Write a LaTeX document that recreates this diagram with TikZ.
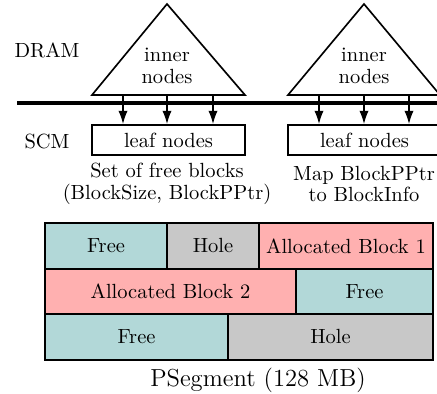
\documentclass[tikz,border=0pt]{standalone}
\usetikzlibrary{arrows.meta}
\definecolor{freecol}{RGB}{178,216,216}
\definecolor{holecol}{RGB}{200,200,200}
\definecolor{alloccol}{RGB}{255,176,176}
\tikzset{
    arr/.style={-{Latex[length=6.5pt,width=4.5pt]},thick},
    leafbox/.style={draw,thick,minimum width=74.6pt,minimum height=14.6pt,inner sep=0pt},
    cell/.style={draw,thick}
}
\begin{document}
\begin{tikzpicture}[x=0.4878pt, y=-0.4878pt]
        \clip (0,0) rectangle (437,394);

        \node[anchor=center] (dram) at (47,50) {DRAM};
        \node[anchor=center] (scm) at (47,142) {SCM};

        % boundary between DRAM and SCM
        \draw[line width=1.5pt] (17,103) -- (445,103);

        % left tree
        \draw[thick,fill=white] (167,4) -- (92,95) -- (245,95) -- cycle;
        \node[align=center] (innerA) at (167,66) {inner\\[-1.5pt]nodes};
        \node[leafbox] (leafA) at (168.5,140) {leaf nodes};
        \coordinate (a1) at (123,95);
        \coordinate (a2) at (167,95);
        \coordinate (a3) at (213,95);
        \draw[arr] (a1) -- (a1 |- leafA.north);
        \draw[arr] (a2) -- (a2 |- leafA.north);
        \draw[arr] (a3) -- (a3 |- leafA.north);
        \node[align=center] (setA) at (167,184) {Set of free blocks\\[-1.5pt](BlockSize, BlockPPtr)};

        % right tree
        \draw[thick,fill=white] (364,4) -- (288,95) -- (440,95) -- cycle;
        \node[align=center] (innerB) at (364,66) {inner\\[-1.5pt]nodes};
        \node[leafbox] (leafB) at (364.5,140) {leaf nodes};
        \coordinate (b1) at (319,95);
        \coordinate (b2) at (364,95);
        \coordinate (b3) at (409,95);
        \draw[arr] (b1) -- (b1 |- leafB.north);
        \draw[arr] (b2) -- (b2 |- leafB.north);
        \draw[arr] (b3) -- (b3 |- leafB.north);
        \node[align=center] (mapB) at (364,184) {Map BlockPPtr\\[-1.5pt]to BlockInfo};

        % PSegment
        \draw[cell,fill=freecol] (45,223) rectangle (167,269);
        \node (free1) at (106,246) {Free};
        \draw[cell,fill=holecol] (167,223) rectangle (259,269);
        \node (hole1) at (213,246) {Hole};
        \draw[cell,fill=alloccol] (259,223) rectangle (433,269);
        \node (alloc1) at (346,246) {Allocated Block 1};

        \draw[cell,fill=alloccol] (45,269) rectangle (296,314);
        \node (alloc2) at (170.5,291.5) {Allocated Block 2};
        \draw[cell,fill=freecol] (296,269) rectangle (433,314);
        \node (free2) at (364.5,291.5) {Free};

        \draw[cell,fill=freecol] (45,314) rectangle (228,360);
        \node (free3) at (136.5,337) {Free};
        \draw[cell,fill=holecol] (228,314) rectangle (433,360);
        \node (hole3) at (330.5,337) {Hole};

        \draw[very thick] (45,223) rectangle (433,360);
        \node (pseg) at (258,380) {\large PSegment (128 MB)};

    \end{tikzpicture}
\end{document}
